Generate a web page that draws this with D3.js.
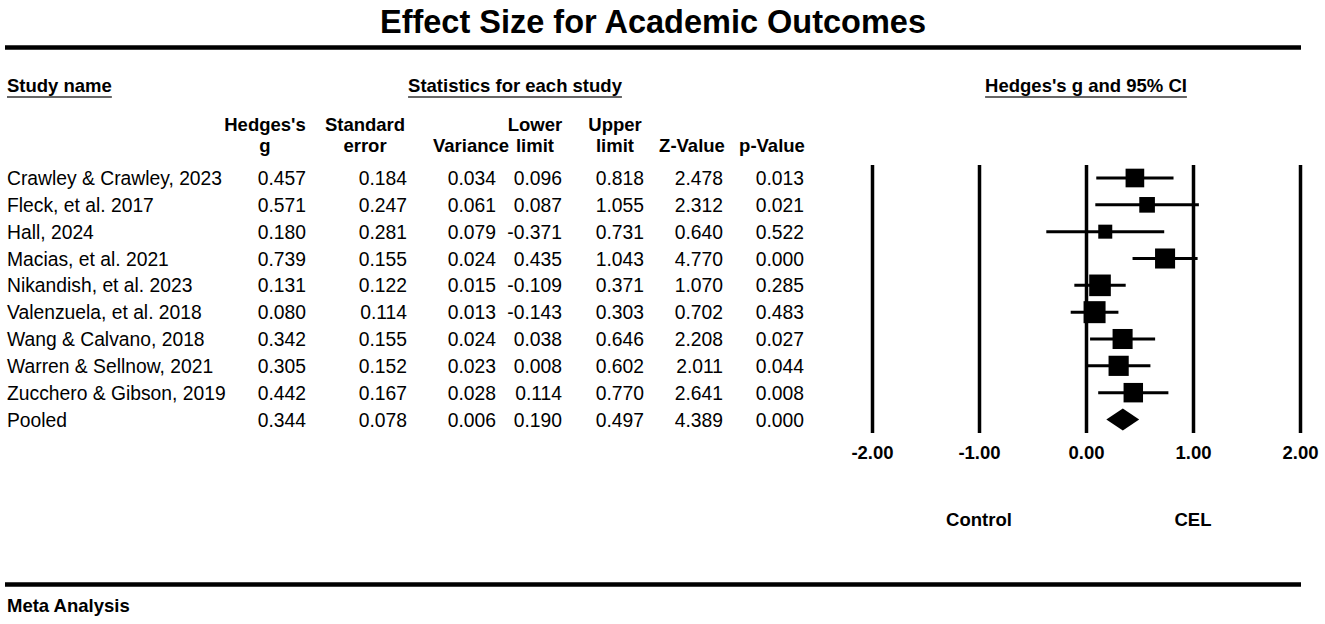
<!DOCTYPE html>
<html>
<head>
<meta charset="utf-8">
<script src="https://cdn.jsdelivr.net/npm/d3@7"></script>
<style>
  body { margin: 0; background: #fff; }
  svg { display: block; font-family: Arial, "Liberation Sans", sans-serif; }
</style>
</head>
<body>
<svg id="chart"></svg>
<script>
// Study data (last row is the pooled estimate)
const studies = [
  "Crawley & Crawley, 2023", "Fleck, et al. 2017", "Hall, 2024",
  "Macias, et al. 2021", "Nikandish, et al. 2023", "Valenzuela, et al. 2018",
  "Wang & Calvano, 2018", "Warren & Sellnow, 2021", "Zucchero & Gibson, 2019",
  "Pooled"
];
const hedgesG   = [0.457, 0.571, 0.180, 0.739, 0.131, 0.080, 0.342, 0.305, 0.442, 0.344];
const stdError  = [0.184, 0.247, 0.281, 0.155, 0.122, 0.114, 0.155, 0.152, 0.167, 0.078];
const variance  = [0.034, 0.061, 0.079, 0.024, 0.015, 0.013, 0.024, 0.023, 0.028, 0.006];
const lowerLim  = [0.096, 0.087, -0.371, 0.435, -0.109, -0.143, 0.038, 0.008, 0.114, 0.190];
const upperLim  = [0.818, 1.055, 0.731, 1.043, 0.371, 0.303, 0.646, 0.602, 0.770, 0.497];
const zValue    = [2.478, 2.312, 0.640, 4.770, 1.070, 0.702, 2.208, 2.011, 2.641, 4.389];
const pValue    = [0.013, 0.021, 0.522, 0.000, 0.285, 0.483, 0.027, 0.044, 0.008, 0.000];

const colHeaders = [
  ["Hedges's", "g"], ["Standard", "error"], ["", "Variance"], ["Lower", "limit"],
  ["Upper", "limit"], ["", "Z-Value"], ["", "p-Value"]
];
const tickValues = [-2, -1, 0, 1, 2];
const favours = ["Control", "CEL"];

const W = 1325, H = 624;
const svg = d3.select("#chart").attr("width", W).attr("height", H);

const fs = 18.5;     // bold labels
const fsBody = 19.3; // table body
const rows = studies.map((name, i) => ({
  name, g: hedgesG[i], se: stdError[i], v: variance[i],
  lo: lowerLim[i], hi: upperLim[i], z: zValue[i], p: pValue[i],
  pooled: name === "Pooled"
}));

// Row positions
const y = d3.scalePoint().domain(studies).range([178, 419.5]);
// Forest plot x scale
const x = d3.scaleLinear().domain([-2, 2]).range([872, 1300]);

// Title and rules
svg.append("text")
  .attr("x", 653).attr("y", 33)
  .attr("text-anchor", "middle")
  .style("font-size", "32.5px").style("font-weight", "bold")
  .text("Effect Size for Academic Outcomes");

[47.5, 584.5].forEach(yy => {
  svg.append("line")
    .attr("x1", 5).attr("x2", 1301).attr("y1", yy).attr("y2", yy)
    .attr("stroke", "#000").attr("stroke-width", 4.5);
});

// Underlined section headings
function heading(txt, xx, anchor) {
  const t = svg.append("text")
    .attr("x", xx).attr("y", 91.5)
    .attr("text-anchor", anchor)
    .style("font-size", fs + "px").style("font-weight", "bold")
    .text(txt);
  const w = t.node().getComputedTextLength();
  const x0 = anchor === "middle" ? xx - w / 2 : xx;
  svg.append("line")
    .attr("x1", x0).attr("x2", x0 + w)
    .attr("y1", 97).attr("y2", 97)
    .attr("stroke", "#333").attr("stroke-width", 1.6);
}
heading("Study name", 7, "start");
heading("Statistics for each study", 515, "middle");
heading("Hedges's g and 95% CI", x(0), "middle");

// Column layout
const colRight  = [306, 407, 496, 562, 644, 723, 804];
const colCenter = [265, 365, 471, 535, 615, 692, 772];
const fields = ["g", "se", "v", "lo", "hi", "z", "p"];

colHeaders.forEach((lines, c) => {
  lines.forEach((ln, k) => {
    if (!ln) return;
    svg.append("text")
      .attr("x", colCenter[c]).attr("y", 131 + k * 21)
      .attr("text-anchor", "middle")
      .style("font-size", fs + "px").style("font-weight", "bold")
      .text(ln);
  });
});

// Table rows
const rowG = svg.append("g").selectAll("g")
  .data(rows).join("g")
  .attr("transform", d => `translate(0,${y(d.name) + 7})`);

rowG.append("text")
  .attr("x", 7)
  .style("font-size", fsBody + "px")
  .text(d => d.name);

fields.forEach((f, c) => {
  rowG.append("text")
    .attr("x", colRight[c])
    .attr("text-anchor", "end")
    .style("font-size", fsBody + "px")
    .text(d => d[f].toFixed(3));
});

// Vertical reference lines + tick labels
const axis = d3.axisBottom(x)
  .tickValues(tickValues)
  .tickSize(-(433 - 165))
  .tickPadding(13)
  .tickFormat(d => d.toFixed(2));

const ax = svg.append("g")
  .attr("transform", "translate(0,433)")
  .call(axis);
ax.select(".domain").remove();
ax.selectAll(".tick line").attr("stroke", "#000").attr("stroke-width", 3.5);
ax.selectAll(".tick text")
  .attr("fill", "#000")
  .style("font-size", fs + "px").style("font-weight", "bold")
  .style("font-family", "Arial, 'Liberation Sans', sans-serif");

// Box size from standard error
const studyRows = rows.filter(d => !d.pooled);
const box = d3.scaleLinear()
  .domain(d3.extent(studyRows, d => d.se))
  .range([22, 14]);

const plot = svg.append("g");
plot.selectAll(".ci")
  .data(studyRows).join("line")
  .attr("x1", d => x(d.lo)).attr("x2", d => x(d.hi))
  .attr("y1", d => y(d.name)).attr("y2", d => y(d.name))
  .attr("stroke", "#000").attr("stroke-width", 3);

plot.selectAll(".box")
  .data(studyRows).join("rect")
  .attr("x", d => x(d.g) - box(d.se) / 2)
  .attr("y", d => y(d.name) - box(d.se) / 2)
  .attr("width", d => box(d.se))
  .attr("height", d => box(d.se))
  .attr("fill", "#000");

// Pooled diamond
rows.filter(d => d.pooled).forEach(d => {
  const cy = y(d.name);
  plot.append("path")
    .attr("d", `M${x(d.lo)},${cy} L${x(d.g)},${cy - 11} L${x(d.hi)},${cy} L${x(d.g)},${cy + 11} Z`)
    .attr("fill", "#000");
});

// Favours labels
favours.forEach((lab, i) => {
  svg.append("text")
    .attr("x", x(i === 0 ? -1 : 1)).attr("y", 525.5)
    .attr("text-anchor", "middle")
    .style("font-size", fs + "px").style("font-weight", "bold")
    .text(lab);
});

svg.append("text")
  .attr("x", 7).attr("y", 612)
  .style("font-size", fs + "px").style("font-weight", "bold")
  .text("Meta Analysis");
</script>
</body>
</html>
